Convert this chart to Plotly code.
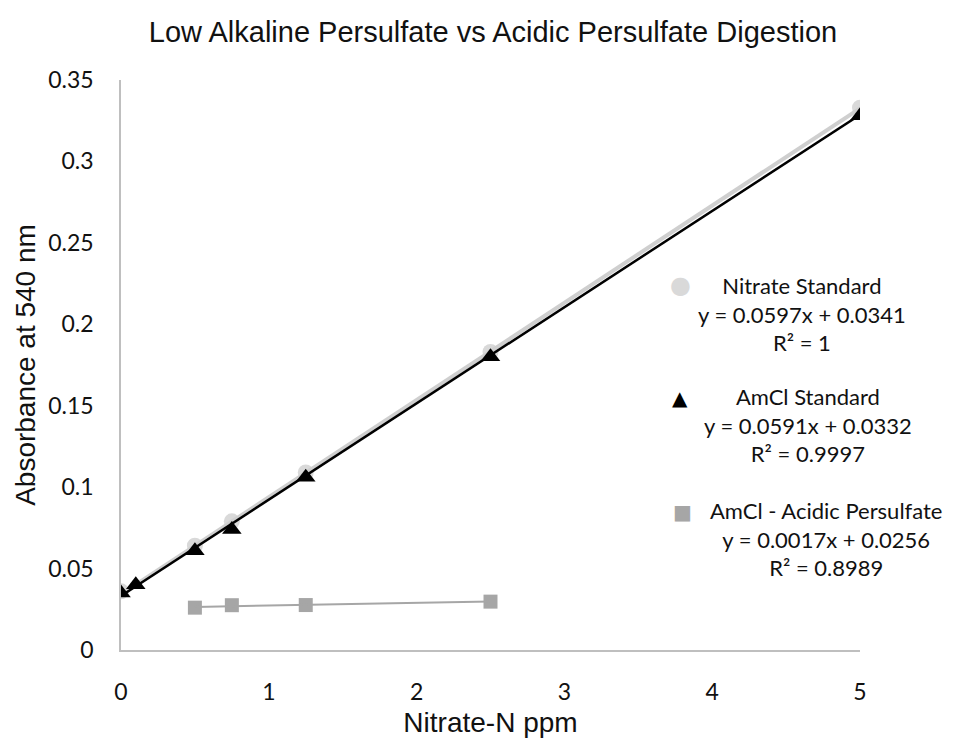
import plotly.graph_objects as go
import numpy as np

# ---- data ----
nitrate_x = [0, 0.5, 0.75, 1.25, 2.5, 5]
nitrate_y = [0.036, 0.064, 0.079, 0.109, 0.183, 0.333]

amcl_x = [0, 0.1, 0.5, 0.75, 1.25, 2.5, 5]
amcl_y = [0.035, 0.040, 0.061, 0.074, 0.106, 0.180, 0.328]

acid_x = [0.5, 0.75, 1.25, 2.5]
acid_y = [0.026, 0.0275, 0.0276, 0.0297]

# trendline coefficients (slope, intercept) as printed on the chart
nitrate_fit = (0.0597, 0.0341)
amcl_fit = (0.0591, 0.0332)
acid_fit = (0.0017, 0.0256)

legend_names = ["Nitrate Standard", "AmCl Standard", "AmCl - Acidic Persulfate"]
legend_eqs = ["y = 0.0597x + 0.0341", "y = 0.0591x + 0.0332", "y = 0.0017x + 0.0256"]
legend_r2 = ["R² = 1", "R² = 0.9997", "R² = 0.8989"]

x_ticks = [0, 1, 2, 3, 4, 5]
y_ticks = [0, 0.05, 0.1, 0.15, 0.2, 0.25, 0.3, 0.35]
y_tick_text = ["0", "0.05", "0.1", "0.15", "0.2", "0.25", "0.3", "0.35"]

C_NIT = "#d9d9d9"
C_NIT_LINE = "#cfcfcf"
C_AMCL = "#000000"
C_ACID = "#a6a6a6"

def fit_line(xs, coef):
    xx = np.array([min(xs), max(xs)], dtype=float)
    return xx, coef[0] * xx + coef[1]

fig = go.Figure()

fig.add_trace(go.Scatter(x=nitrate_x, y=nitrate_y, mode="markers",
                         marker=dict(symbol="circle", size=16, color=C_NIT),
                         showlegend=False, hoverinfo="skip"))
lx, ly = fit_line(nitrate_x, nitrate_fit)
fig.add_trace(go.Scatter(x=lx, y=ly, mode="lines",
                         line=dict(color=C_NIT_LINE, width=4),
                         showlegend=False, hoverinfo="skip"))
fig.add_trace(go.Scatter(x=amcl_x, y=amcl_y, mode="markers",
                         marker=dict(symbol="triangle-up", size=17, color=C_AMCL),
                         showlegend=False, hoverinfo="skip"))
lx, ly = fit_line(amcl_x, amcl_fit)
fig.add_trace(go.Scatter(x=lx, y=ly, mode="lines",
                         line=dict(color=C_AMCL, width=2.5),
                         showlegend=False, hoverinfo="skip"))
fig.add_trace(go.Scatter(x=acid_x, y=acid_y, mode="markers",
                         marker=dict(symbol="square", size=14, color=C_ACID),
                         showlegend=False, hoverinfo="skip"))
lx, ly = fit_line(acid_x, acid_fit)
fig.add_trace(go.Scatter(x=lx, y=ly, mode="lines",
                         line=dict(color=C_ACID, width=2),
                         showlegend=False, hoverinfo="skip"))

OFF = 8  # default page body margin
W, H = 957 - OFF, 739 - OFF
PL, PR, PT, PB = 121, 860, 80, 650  # plot area in page pixels
L, T = PL - OFF, PT - OFF
R = W - (PR - OFF)
B = H - (PB - OFF)

def px(xp):
    return (xp - PL) / (PR - PL)

def py(yp):
    return (PB - yp) / (PB - PT)

annotations = []
legend_font = dict(family="Lato, 'Open Sans', sans-serif", size=22, color="#111")
# (symbol, colour, symbol size, sym x, sym y, text centre x, text centre y)
blocks = [
    ("●", C_NIT, 24, 680, 285, 802, 314),
    ("▲", C_AMCL, 20, 680, 398, 808, 425),
    ("■", C_ACID, 20, 682, 512, 826, 539),
]
for i, (sym, col, ssz, sx, sy, cx, cy) in enumerate(blocks):
    annotations.append(dict(x=px(sx), y=py(sy), xref="paper", yref="paper", text=sym,
                            showarrow=False, xanchor="center", yanchor="middle",
                            font=dict(family="DejaVu Sans", size=ssz, color=col)))
    annotations.append(dict(x=px(cx), y=py(cy), xref="paper", yref="paper",
                            text="<br>".join([legend_names[i], legend_eqs[i], legend_r2[i]]),
                            align="center", showarrow=False, xanchor="center", yanchor="middle",
                            font=legend_font))

fig.update_layout(
    width=W, height=H,
    margin=dict(l=L, r=R, t=T, b=B, autoexpand=False),
    paper_bgcolor="white", plot_bgcolor="white",
    title=dict(text="Low Alkaline Persulfate vs Acidic Persulfate Digestion",
               x=px(493), xref="paper", xanchor="center",
               y=1 - (32 - OFF) / H, yref="container", yanchor="middle",
               font=dict(family="Liberation Sans, Arial, sans-serif", size=29, color="#111")),
    annotations=annotations,
    showlegend=False,
)
fig.update_xaxes(range=[0, 5], tickvals=x_ticks, showgrid=False, zeroline=False,
                 showline=True, linecolor="#bfbfbf", linewidth=1.5,
                 ticks="", ticklabelstandoff=21, automargin=False,
                 tickfont=dict(family="Lato, 'Open Sans', sans-serif", size=23, color="#111"),
                 title=dict(text="Nitrate-N ppm", standoff=8,
                            font=dict(family="Liberation Sans, Arial, sans-serif", size=28, color="#111")))
fig.update_yaxes(range=[0, 0.35], tickvals=y_ticks, ticktext=y_tick_text, showgrid=False,
                 zeroline=False, showline=True, linecolor="#bfbfbf", linewidth=1.5,
                 ticks="", ticklabelstandoff=21, automargin=False,
                 tickfont=dict(family="Lato, 'Open Sans', sans-serif", size=23, color="#111"),
                 title=dict(text="Absorbance at 540 nm", standoff=4,
                            font=dict(family="Liberation Sans, Arial, sans-serif", size=28, color="#111")))

fig.write_html("out.html")
